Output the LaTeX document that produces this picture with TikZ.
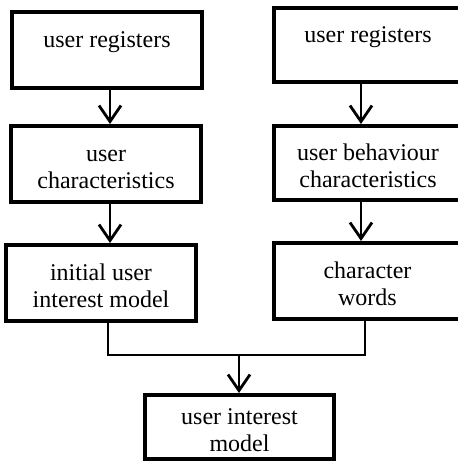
\documentclass[tikz,border=0pt]{standalone}
\usepackage{fontspec}
\setmainfont{Liberation Serif}
\usetikzlibrary{arrows.meta}

\newcommand{\boxlines}[1]{\begin{tabular}[t]{@{}c@{}}#1\end{tabular}}

\begin{document}
\begin{tikzpicture}[
        x=0.5pt, y=-0.5pt,
        box/.style={draw, line width=2pt, minimum width=95pt, minimum height=38pt,
            inner sep=0pt, font=\fontsize{12}{13.5}\selectfont,
            text height=12pt, text depth=15pt},
        link/.style={line width=1.4pt},
        flow/.style={link, -{Straight Barb[length=8pt, width=11pt, line width=1.4pt]}}
    ]
        \useasboundingbox (0,0) rectangle (458,461);

        \node[box] (regL) at (107,50) {\boxlines{user registers}};
        \node[box] (charL) at (106,164) {\boxlines{user\\characteristics}};
        \node[box] (initL) at (101,283) {\boxlines{initial user\\interest model}};

        \node[box, minimum width=94pt, minimum height=37pt] (regR) at (368,45) {\boxlines{user registers}};
        \node[box, minimum width=94pt, minimum height=37pt] (charR) at (368,163) {\boxlines{user behaviour\\characteristics}};
        \node[box, minimum width=94pt] (words) at (367.5,281) {\boxlines{character\\words}};

        \node[box, minimum width=94.5pt, minimum height=32pt] (model) at (239.5,427) {\boxlines{user interest\\model}};

        \coordinate (colL) at (110,0);
        \coordinate (colR) at (361,0);
        \coordinate (mergeL) at (108,355);
        \coordinate (mergeR) at (365,355);
        \coordinate (join) at (239,355);

        \draw[flow] (regL.south -| colL) -- (charL.north -| colL);
        \draw[flow] (charL.south -| colL) -- (initL.north -| colL);
        \draw[flow] (regR.south -| colR) -- (charR.north -| colR);
        \draw[flow] (charR.south -| colR) -- (words.north -| colR);

        \draw[link] (initL.south -| mergeL) -- (mergeL) -- (mergeR) -- (words.south -| mergeR);
        \draw[flow] (join) -- (model.north -| join);
    \end{tikzpicture}
\end{document}
